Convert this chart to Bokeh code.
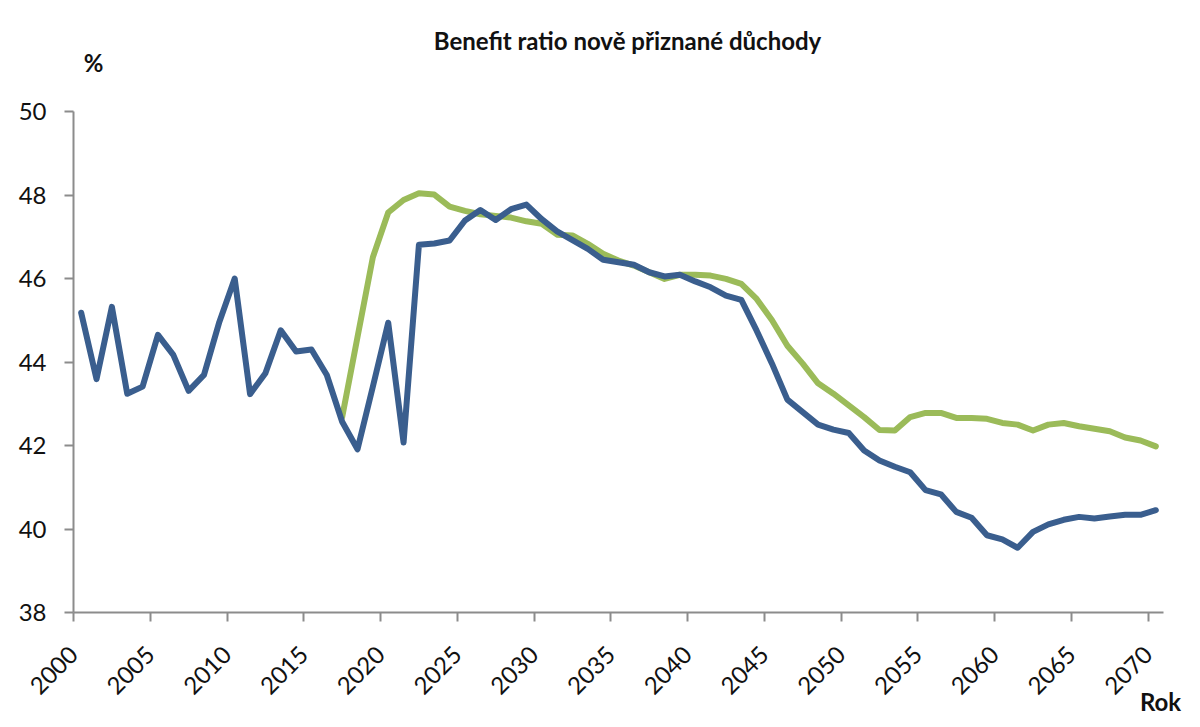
import numpy as np
from bokeh.plotting import figure
from bokeh.models import Range1d, FixedTicker, Label
from bokeh.embed import file_html
from bokeh.resources import INLINE

years = list(range(2000, 2071))

blue_values = [
    45.18, 43.59, 45.32, 43.24, 43.41, 44.65, 44.17, 43.31, 43.69, 44.96,
    46.00, 43.23, 43.73, 44.76, 44.25, 44.30, 43.69, 42.57, 41.91, 43.41,
    44.94, 42.07, 46.81, 46.84, 46.91, 47.39, 47.64, 47.40, 47.66, 47.77,
    47.42, 47.13, 46.92, 46.71, 46.45, 46.39, 46.33, 46.15, 46.05, 46.09,
    45.93, 45.79, 45.59, 45.49, 44.75, 43.96, 43.10, 42.80, 42.50, 42.38,
    42.30, 41.88, 41.64, 41.49, 41.36, 40.93, 40.83, 40.41, 40.27, 39.85,
    39.75, 39.55, 39.93, 40.11, 40.22, 40.29, 40.25, 40.30, 40.34, 40.34,
    40.45,
]

green_years = list(range(2017, 2071))
green_values = [
    42.68, 44.60, 46.51, 47.58, 47.88, 48.04, 48.01, 47.72, 47.62, 47.54,
    47.50, 47.46, 47.37, 47.31, 47.05, 47.03, 46.83, 46.59, 46.43, 46.31,
    46.15, 45.99, 46.09, 46.09, 46.07, 45.99, 45.87, 45.51, 45.00, 44.39,
    43.96, 43.49, 43.24, 42.96, 42.68, 42.37, 42.36, 42.68, 42.78, 42.78,
    42.66, 42.66, 42.64, 42.54, 42.50, 42.36, 42.50, 42.54, 42.46, 42.40,
    42.34, 42.19, 42.12, 41.98,
]

x_ticks = list(range(2000, 2071, 5))
y_ticks = list(range(38, 51, 2))

title_text = "Benefit ratio nově přiznané důchody"
y_unit = "%"
x_name = "Rok"

FONT = "Lato"
BLUE = "#3A5E8E"
GREEN = "#9BBB59"
AXIS = "#8C8C8C"
TXT = "#111111"

BL, BR, BT, BB = 73, 29, 111, 107
W, H = 1192, 719

p = figure(width=W, height=H, output_backend="svg", toolbar_location=None,
           x_range=Range1d(2000, 2071), y_range=Range1d(38, 50),
           min_border_left=BL, min_border_right=BR, min_border_top=BT,
           min_border_bottom=BB)
p.outline_line_color = None
p.xgrid.visible = False
p.ygrid.visible = False
p.background_fill_color = "white"
p.border_fill_color = "white"

# category centres (points sit between the ticks)
bx = np.array(years) + 0.5
gx = np.array(green_years) + 0.5

p.line(gx, green_values, line_color=GREEN, line_width=6,
       line_join="round", line_cap="round")
p.line(bx, blue_values, line_color=BLUE, line_width=6,
       line_join="round", line_cap="round")

for ax in (p.xaxis[0], p.yaxis[0]):
    ax.axis_line_color = AXIS
    ax.axis_line_width = 2
    ax.major_tick_line_color = AXIS
    ax.major_tick_line_width = 2
    ax.major_tick_in = 0
    ax.major_tick_out = 9
    ax.minor_tick_line_color = None
    ax.major_label_text_font = FONT
    ax.major_label_text_color = TXT

p.xaxis.ticker = FixedTicker(ticks=x_ticks)
p.yaxis.ticker = FixedTicker(ticks=y_ticks)
p.xaxis.major_label_orientation = np.pi / 4
p.xaxis.major_label_text_font_size = "24px"
p.yaxis.major_label_text_font_size = "24px"
p.yaxis.major_label_standoff = 18
p.xaxis.major_label_standoff = 29


# text placed in the "above" panel; each label's box stacks on the previous one,
# so `stack` is the height taken by the labels added before it
def lab(px, py, text, size, stack):
    return Label(x=px - BL, y=BT - stack - py, x_units="screen", y_units="screen",
                 text=text, text_font=FONT, text_font_style="bold",
                 text_font_size=size, text_align="center",
                 text_baseline="middle", text_color=TXT)


p.add_layout(lab(627, 40, title_text, "24px", 0), "above")
p.add_layout(lab(93, 62, y_unit, "24px", 28.8), "above")
p.add_layout(lab(1160, 701, x_name, "24px", 57.6), "above")

open("out.html", "w").write(file_html(p, INLINE))
